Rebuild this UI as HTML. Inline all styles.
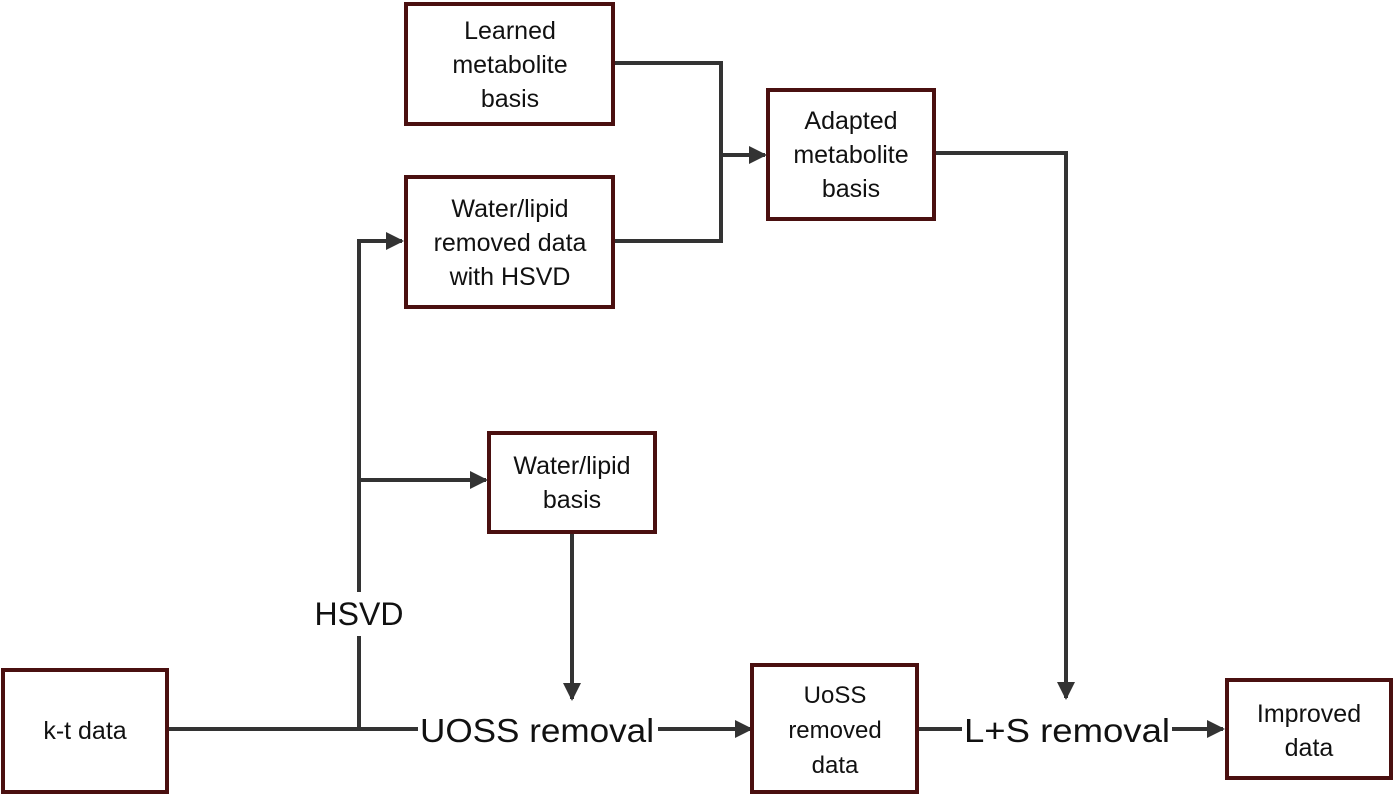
<!DOCTYPE html>
<html><head><style>
html,body{margin:0;padding:0;background:#fff;width:1394px;height:796px;overflow:hidden}
svg text{font-family:"Liberation Sans","DejaVu Sans",sans-serif;fill:#111}
</style></head><body>
<svg width="1394" height="796" viewBox="0 0 1394 796" xmlns="http://www.w3.org/2000/svg">
<defs>
<marker id="a" markerWidth="4.5" markerHeight="4.5" refX="4" refY="2.25" orient="auto" markerUnits="strokeWidth">
<path d="M0,0 L4.5,2.25 L0,4.5 z" fill="#333"/></marker>
</defs>
<g stroke="#333" stroke-width="4" fill="none">
<line x1="167" y1="729" x2="751" y2="729" marker-end="url(#a)"/>
<polyline points="359,729 359,241 402,241" marker-end="url(#a)"/>
<line x1="359" y1="480" x2="486" y2="480" marker-end="url(#a)"/>
<line x1="572" y1="532" x2="572" y2="699" marker-end="url(#a)"/>
<polyline points="613,63 721,63 721,241 613,241"/>
<line x1="721" y1="155" x2="765" y2="155" marker-end="url(#a)"/>
<polyline points="934,153 1066,153 1066,698" marker-end="url(#a)"/>
<line x1="918" y1="729" x2="1223" y2="729" marker-end="url(#a)"/>
</g>
<rect x="304" y="592" width="110" height="44" fill="#fff"/>
<rect x="418" y="706" width="240" height="46" fill="#fff"/>
<rect x="962" y="706" width="210" height="46" fill="#fff"/>
<text x="359" y="625" font-size="32" text-anchor="middle">HSVD</text>
<text x="537" y="742" font-size="33" text-anchor="middle" textLength="234" lengthAdjust="spacingAndGlyphs">UOSS removal</text>
<text x="1067" y="742" font-size="33" text-anchor="middle" textLength="206" lengthAdjust="spacingAndGlyphs">L+S removal</text>
<g stroke="#4a1010" stroke-width="4" fill="#fff">
<rect x="406" y="4" width="207" height="120"/>
<rect x="406" y="177" width="207" height="130"/>
<rect x="768" y="90" width="166" height="129"/>
<rect x="489" y="433" width="166" height="99"/>
<rect x="3" y="670" width="164" height="122"/>
<rect x="752" y="665" width="165" height="127"/>
<rect x="1227" y="680" width="164" height="98"/>
</g>
<g font-size="25" text-anchor="middle">
<text x="510" y="39">Learned</text>
<text x="510" y="73">metabolite</text>
<text x="510" y="107">basis</text>
<text x="510" y="217">Water/lipid</text>
<text x="510" y="251">removed data</text>
<text x="510" y="285">with HSVD</text>
<text x="851" y="129">Adapted</text>
<text x="851" y="163">metabolite</text>
<text x="851" y="197">basis</text>
<text x="572" y="474">Water/lipid</text>
<text x="572" y="508">basis</text>
<text x="85" y="739">k-t data</text>
<text x="1309" y="722">Improved</text>
<text x="1309" y="756">data</text>
</g>
<g font-size="24" text-anchor="middle">
<text x="835" y="703">UoSS</text>
<text x="835" y="738">removed</text>
<text x="835" y="773">data</text>
</g>
</svg>
</body></html>
